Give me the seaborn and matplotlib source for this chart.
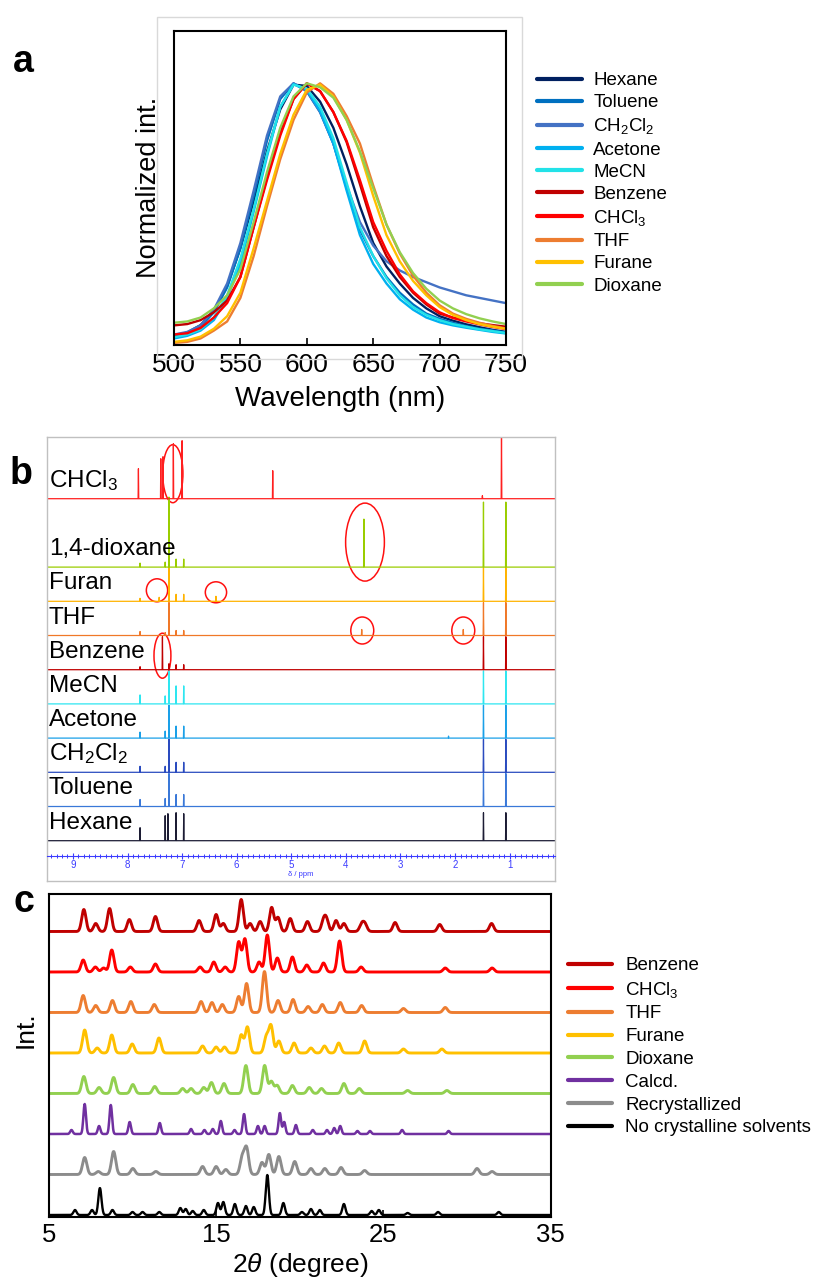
import numpy as np
import pandas as pd
import matplotlib
matplotlib.use("Agg")
import matplotlib.pyplot as plt
from matplotlib.patches import Ellipse, Rectangle
from matplotlib.lines import Line2D
from matplotlib.ticker import MultipleLocator
import seaborn as sns

sns.set_theme(style="white")
plt.rcParams["font.family"] = ["Liberation Sans", "DejaVu Sans"]
plt.rcParams["mathtext.fontset"] = "custom"
plt.rcParams["mathtext.rm"] = "Liberation Sans"
plt.rcParams["mathtext.it"] = "Liberation Sans:italic"
plt.rcParams["mathtext.bf"] = "Liberation Sans:bold"
plt.rcParams["text.color"] = "black"
plt.rcParams["axes.labelcolor"] = "black"
plt.rcParams["xtick.color"] = "black"
plt.rcParams["ytick.color"] = "black"

# ---------------------------------------------------------------- panel a data
# normalized emission, sampled every 10 nm from 500 to 750 nm
wavelength = list(range(500, 751, 10))
em_hexane = [0.034, 0.048, 0.076, 0.13, 0.225, 0.37, 0.55, 0.74, 0.90, 0.995, 0.99, 0.93, 0.83,
             0.69, 0.53, 0.39, 0.30, 0.235, 0.18, 0.14, 0.11, 0.093, 0.079, 0.068, 0.058, 0.05]
em_toluene = [0.035, 0.045, 0.07, 0.125, 0.22, 0.37, 0.57, 0.78, 0.94, 1.0, 0.97, 0.89, 0.77,
              0.60, 0.44, 0.34, 0.26, 0.20, 0.155, 0.12, 0.10, 0.085, 0.072, 0.062, 0.055, 0.048]
em_ch2cl2 = [0.04, 0.05, 0.075, 0.135, 0.235, 0.39, 0.59, 0.80, 0.95, 1.0, 0.97, 0.89, 0.77,
             0.61, 0.47, 0.38, 0.32, 0.285, 0.26, 0.24, 0.22, 0.205, 0.19, 0.18, 0.17, 0.16]
em_acetone = [0.025, 0.035, 0.055, 0.095, 0.18, 0.31, 0.51, 0.72, 0.91, 0.997, 0.975, 0.895, 0.77,
              0.59, 0.42, 0.31, 0.235, 0.175, 0.135, 0.105, 0.087, 0.075, 0.066, 0.058, 0.05, 0.044]
em_mecn = [0.03, 0.04, 0.06, 0.105, 0.19, 0.33, 0.52, 0.73, 0.91, 0.995, 0.98, 0.91, 0.79,
           0.62, 0.45, 0.34, 0.255, 0.19, 0.145, 0.115, 0.095, 0.08, 0.07, 0.06, 0.053, 0.046]
em_benzene = [0.075, 0.08, 0.095, 0.125, 0.17, 0.26, 0.45, 0.64, 0.81, 0.94, 1.0, 0.97, 0.89,
              0.775, 0.615, 0.45, 0.34, 0.26, 0.20, 0.155, 0.12, 0.105, 0.093, 0.083, 0.076, 0.07]
em_chcl3 = [0.04, 0.045, 0.065, 0.105, 0.16, 0.26, 0.45, 0.63, 0.80, 0.94, 1.0, 0.97, 0.89,
            0.78, 0.63, 0.47, 0.36, 0.27, 0.205, 0.16, 0.125, 0.103, 0.09, 0.079, 0.069, 0.061]
em_thf = [0.008, 0.012, 0.025, 0.055, 0.09, 0.18, 0.34, 0.53, 0.71, 0.86, 0.965, 1.0, 0.96,
          0.875, 0.77, 0.61, 0.46, 0.35, 0.265, 0.20, 0.152, 0.12, 0.10, 0.085, 0.073, 0.063]
em_furane = [0.012, 0.018, 0.032, 0.062, 0.11, 0.2, 0.37, 0.55, 0.73, 0.88, 0.975, 0.995, 0.95,
             0.86, 0.735, 0.57, 0.42, 0.32, 0.245, 0.19, 0.145, 0.115, 0.095, 0.08, 0.07, 0.062]
em_dioxane = [0.085, 0.09, 0.105, 0.14, 0.19, 0.29, 0.47, 0.66, 0.83, 0.95, 1.0, 0.985, 0.945,
              0.86, 0.74, 0.6, 0.46, 0.355, 0.275, 0.215, 0.17, 0.14, 0.118, 0.102, 0.09, 0.08]

solvents_a = ["Hexane", "Toluene", "CH$_2$Cl$_2$", "Acetone", "MeCN",
              "Benzene", "CHCl$_3$", "THF", "Furane", "Dioxane"]
colors_a = ["#002060", "#0070C0", "#4472C4", "#00B0F0", "#22E2E8",
            "#C00000", "#FF0000", "#ED7D31", "#FFC000", "#92D050"]
series_a = [em_hexane, em_toluene, em_ch2cl2, em_acetone, em_mecn,
            em_benzene, em_chcl3, em_thf, em_furane, em_dioxane]
xticks_a = [500, 550, 600, 650, 700, 750]

# ---------------------------------------------------------------- panel b data
# 1H NMR peak lists (ppm, peak height in plot units) for each crystal dissolved
nmr_labels = ["Hexane", "Toluene", "CH$_2$Cl$_2$", "Acetone", "MeCN",
              "Benzene", "THF", "Furan", "1,4-dioxane", "CHCl$_3$"]
nmr_colors = ["#1C1C34", "#3A78D8", "#2A4BBF", "#1AA0E8", "#2EE6F0",
              "#C00000", "#F07828", "#FFB300", "#9ACD00", "#FF2020"]
ppm_hexane = [7.77, 7.31, 7.26, 7.11, 6.97, 1.48, 1.07]
int_hexane = [13, 25, 27, 28, 27, 28, 28]
ppm_toluene = [7.77, 7.31, 7.24, 7.11, 6.97, 1.48, 1.07]
int_toluene = [7, 8, 33, 12, 12, 33, 33]
ppm_ch2cl2 = [7.77, 7.31, 7.24, 7.11, 6.97, 1.48, 1.07]
int_ch2cl2 = [6, 6, 33, 10, 10, 33, 33]
ppm_acetone = [7.77, 7.31, 7.24, 7.11, 6.97, 2.12, 1.48, 1.07]
int_acetone = [6, 7, 33, 12, 12, 2, 33, 33]
ppm_mecn = [7.77, 7.31, 7.24, 7.11, 6.97, 1.48, 1.07]
int_mecn = [9, 8, 33, 18, 18, 33, 33]
ppm_benzene = [7.77, 7.36, 7.24, 7.11, 6.97, 1.48, 1.07]
int_benzene = [3, 33, 6, 5, 5, 33, 33]
ppm_thf = [7.77, 7.31, 7.24, 7.11, 6.97, 3.71, 1.85, 1.48, 1.07]
int_thf = [4, 3, 33, 5, 5, 6, 6, 33, 33]
ppm_furan = [7.77, 7.42, 7.24, 7.11, 6.97, 6.38, 1.48, 1.07]
int_furan = [3, 4, 34, 7, 7, 5, 34, 34]
ppm_dioxane = [7.77, 7.31, 7.24, 7.11, 6.97, 3.67, 1.48, 1.07]
int_dioxane = [4, 5, 70, 8, 8, 48, 65, 65]
ppm_chcl3 = [7.80, 7.39, 7.35, 7.16, 7.00, 5.34, 1.50, 1.15]
int_chcl3 = [30, 40, 42, 55, 58, 28, 3, 70]
nmr_ppm = [ppm_hexane, ppm_toluene, ppm_ch2cl2, ppm_acetone, ppm_mecn,
           ppm_benzene, ppm_thf, ppm_furan, ppm_dioxane, ppm_chcl3]
nmr_int = [int_hexane, int_toluene, int_ch2cl2, int_acetone, int_mecn,
           int_benzene, int_thf, int_furan, int_dioxane, int_chcl3]
# circled solvent signals: (trace index, ppm, height above baseline, width ppm, height)
circled = [(9, 7.17, 25, 0.37, 58), (8, 3.65, 25, 0.71, 78),
           (7, 7.46, 11, 0.39, 23), (7, 6.38, 9, 0.39, 21),
           (6, 3.70, 5, 0.42, 27), (6, 1.85, 5, 0.42, 27),
           (5, 7.36, 14, 0.31, 45)]
ppm_ticks = [1, 2, 3, 4, 5, 6, 7, 8, 9]

# ---------------------------------------------------------------- panel c data
# PXRD reflections: 2theta (deg) and peak height (plot units)
xrd_labels = ["Benzene", "CHCl$_3$", "THF", "Furane", "Dioxane",
              "Calcd.", "Recrystallized", "No crystalline solvents"]
xrd_colors = ["#C00000", "#FF0000", "#ED7D31", "#FFC000", "#92D050",
              "#7030A0", "#8C8C8C", "#000000"]
pos_benzene = [7.09, 7.8, 8.63, 9.81, 11.37, 13.98, 15.0, 15.43, 16.5, 17.03, 17.63, 18.32,
               18.7, 19.43, 20.46, 21.42, 21.6, 22.17, 22.64, 23.7, 23.9, 25.7, 28.37, 31.47]
hgt_benzene = [22, 8, 23, 12, 15, 11, 17, 8, 32, 8, 10, 24,
               14, 13, 10, 10, 11, 11, 8, 7, 7, 9, 7, 8]
pos_chcl3 = [7.05, 7.78, 8.27, 8.76, 9.87, 11.37, 14.04, 14.86, 15.54, 16.35, 16.72, 17.57,
             18.06, 18.66, 19.56, 20.42, 21.42, 22.38, 23.67, 28.7, 31.5]
hgt_chcl3 = [12, 5, 4, 22, 5, 8, 5, 10, 5, 30, 33, 10,
             37, 14, 15, 7, 9, 31, 5, 4, 4]
pos_thf = [7.05, 7.8, 8.8, 9.9, 11.3, 14.1, 14.75, 15.37, 16.35, 16.82, 17.89, 18.7,
           19.6, 20.5, 21.35, 22.42, 23.7, 26.2, 28.7]
hgt_thf = [17, 7, 12, 11, 8, 11, 10, 8, 16, 29, 41, 12,
           13, 6, 8, 10, 7, 4, 5]
pos_furane = [7.14, 7.89, 8.76, 9.98, 11.58, 14.19, 15.0, 15.5, 16.5, 16.87, 18.0, 18.28,
              18.75, 19.66, 20.67, 21.48, 22.33, 23.88, 26.2, 28.5]
hgt_furane = [23, 5, 18, 9, 15, 7, 6, 6, 18, 26, 16, 27,
              12, 10, 5, 7, 10, 12, 4, 4]
pos_dioxane = [7.09, 8.0, 8.87, 10.02, 11.33, 13.0, 13.5, 14.26, 14.72, 15.47, 16.78, 17.9,
               18.3, 18.65, 19.56, 20.57, 21.3, 22.64, 23.56, 26.45, 28.8]
hgt_dioxane = [17, 6, 16, 9, 7, 5, 5, 6, 11, 10, 28, 28,
               12, 8, 8, 6, 5, 10, 5, 3, 3]
pos_calcd = [6.35, 7.14, 8.0, 8.7, 9.83, 11.63, 13.5, 14.3, 14.8, 15.28, 16.1, 16.67, 17.5,
             17.9, 18.81, 19.07, 19.77, 20.78, 21.63, 22.06, 22.42, 23.45, 24.2, 26.12, 28.9]
hgt_calcd = [4, 30, 8, 29, 12, 11, 5, 4, 5, 13, 4, 20, 8,
             8, 21, 12, 9, 4, 4, 6, 8, 3, 3, 4, 3]
pos_recryst = [7.14, 7.95, 8.87, 10.02, 11.4, 14.19, 15.0, 15.58, 16.56, 16.82, 17.74, 18.15,
               18.75, 19.7, 20.67, 21.5, 22.47, 23.88, 30.6, 31.5]
hgt_recryst = [17, 3, 23, 6, 3, 8, 8, 5, 17, 26, 12, 20,
               18, 13, 6, 6, 7, 4, 6, 3]
pos_nocryst = [6.56, 7.58, 8.05, 8.8, 10.0, 10.6, 11.6, 12.86, 13.18, 13.6, 14.26, 15.11, 15.43,
               16.12, 16.78, 17.25, 18.06, 19.02, 20.13, 20.67, 21.2, 22.64, 24.3, 24.73, 26.45,
               28.27, 31.9]
hgt_nocryst = [5, 5, 27, 5, 3, 3, 3, 7, 6, 4, 5, 12, 13,
               11, 9, 8, 40, 12, 3, 6, 5, 11, 4, 5, 2,
               3, 3]
xrd_pos = [pos_benzene, pos_chcl3, pos_thf, pos_furane, pos_dioxane,
           pos_calcd, pos_recryst, pos_nocryst]
xrd_hgt = [hgt_benzene, hgt_chcl3, hgt_thf, hgt_furane, hgt_dioxane,
           hgt_calcd, hgt_recryst, hgt_nocryst]
xrd_fwhm = [0.3, 0.3, 0.3, 0.3, 0.3, 0.18, 0.3, 0.22]
xrd_lw = [2.1, 2.1, 2.1, 2.1, 2.1, 1.8, 2.1, 1.7]
xticks_c = [5, 15, 25, 35]

# ---------------------------------------------------------------- figure
W, H = 815, 1282
fig = plt.figure(figsize=(W / 100, H / 100), dpi=100)
fig.patch.set_facecolor("white")


def box(l, t, r, b):
    return [l / W, 1 - b / H, (r - l) / W, (b - t) / H]


# ---------------------------------------------------------------- panel a
fig.add_artist(Rectangle((157 / W, 1 - 359 / H), (522 - 157) / W, (359 - 17) / H,
                         transform=fig.transFigure, fill=False, ec="#D9D9D9", lw=1.0))
ax_a = fig.add_axes(box(174, 31, 506, 345))
n_wl = len(wavelength)
df_a = pd.DataFrame({
    "Wavelength": np.tile(wavelength, len(series_a)),
    "Intensity": np.concatenate(series_a),
    "Solvent": np.repeat(solvents_a, n_wl),
})
sns.lineplot(data=df_a, x="Wavelength", y="Intensity", hue="Solvent",
             hue_order=solvents_a, palette=dict(zip(solvents_a, colors_a)),
             estimator=None, sort=False, linewidth=1.7, legend=False, ax=ax_a)
ax_a.set_xlim(500, 750)
ax_a.set_ylim(0, 1.2)
ax_a.set_xticks(xticks_a)
ax_a.set_yticks([])
ax_a.tick_params(axis="x", bottom=True, direction="in", length=5, width=1.2,
                 labelsize=19, pad=6, colors="black")
ax_a.set_xlabel("Wavelength (nm)", fontsize=20, labelpad=6)
ax_a.set_ylabel("Normalized int.", fontsize=19.5)
ax_a.yaxis.set_label_coords(-0.035, 0.503)
for s in ax_a.spines.values():
    s.set_color("black")
    s.set_linewidth(1.5)

handles_a = [Line2D([], [], color=c, lw=3) for c in colors_a]
fig.legend(handles_a, solvents_a, loc="upper left", bbox_to_anchor=(537 / W, 1 - 72 / H),
           frameon=False, fontsize=13.5, handlelength=2.4, handletextpad=0.6,
           labelspacing=0.27, borderpad=0, borderaxespad=0, labelcolor="black")
fig.text(13 / W, 1 - 72 / H, "a", fontsize=27, fontweight="bold", va="baseline")

# ---------------------------------------------------------------- panel b
ppm_left, ppm_right = 9.48, 0.17
ax_b = fig.add_axes(box(46.7, 437, 555, 880.7))
gap = 34.2
nmr_base = [40 + gap * i for i in range(9)]
nmr_base.append(nmr_base[-1] + 2 * gap)

rows = []
for k, (lab, pp, hh) in enumerate(zip(nmr_labels, nmr_ppm, nmr_int)):
    order = np.argsort(pp)[::-1]
    xs, ys = [ppm_left], [nmr_base[k]]
    for i in order:
        xs += [pp[i] + 0.006, pp[i], pp[i] - 0.006]
        ys += [nmr_base[k], nmr_base[k] + hh[i], nmr_base[k]]
    xs.append(ppm_right)
    ys.append(nmr_base[k])
    rows.append(pd.DataFrame({"ppm": xs, "signal": ys, "sample": lab}))
df_b = pd.concat(rows, ignore_index=True)
sns.lineplot(data=df_b, x="ppm", y="signal", hue="sample", hue_order=nmr_labels,
             palette=dict(zip(nmr_labels, nmr_colors)), estimator=None, sort=False,
             linewidth=0.9, legend=False, ax=ax_b)
for k, lab in enumerate(nmr_labels):
    ax_b.text(9.44, nmr_base[k] + 12, lab, fontsize=17.5, va="baseline", ha="left",
              color="black")
for k, p, dy, w, h in circled:
    ax_b.add_patch(Ellipse((p, nmr_base[k] + dy), w, h, fill=False, ec="#FF1010", lw=1.1))
ax_b.set_xlim(ppm_left, ppm_right)
ax_b.set_ylim(0, 443.7)
ax_b.set_xticks([])
ax_b.set_yticks([])
ax_b.set_xlabel("")
ax_b.set_ylabel("")
for s in ax_b.spines.values():
    s.set_color("#C0C0C0")
    s.set_linewidth(1.0)

# chemical-shift scale
blue = "#3B3BFF"
ax_ppm = fig.add_axes(box(46.7, 855.9, 555, 856))
ax_ppm.patch.set_visible(False)
ax_ppm.set_xlim(ppm_left, ppm_right)
ax_ppm.set_xticks(ppm_ticks)
ax_ppm.xaxis.set_minor_locator(MultipleLocator(0.1))
ax_ppm.set_yticks([])
for name, s in ax_ppm.spines.items():
    s.set_visible(name == "bottom")
ax_ppm.spines["bottom"].set_color(blue)
ax_ppm.spines["bottom"].set_linewidth(0.8)
ax_ppm.tick_params(axis="x", which="major", bottom=True, direction="inout", length=4,
                   width=0.8, color=blue, labelcolor=blue, labelsize=7, pad=1)
ax_ppm.tick_params(axis="x", which="minor", bottom=True, direction="inout", length=2.5,
                   width=0.7, color=blue)
ax_ppm.set_xlabel("δ / ppm", fontsize=5.5, color=blue, labelpad=0.5)
fig.text(10 / W, 1 - 484 / H, "b", fontsize=27, fontweight="bold", va="baseline")

# ---------------------------------------------------------------- panel c
ax_c = fig.add_axes(box(48.9, 894, 550.6, 1217))
two_theta = np.arange(5.0, 35.001, 0.02)
gap_c = 40.5
rows = []
for k, (lab, pp, hh, fw) in enumerate(zip(xrd_labels, xrd_pos, xrd_hgt, xrd_fwhm)):
    base = 2 + gap_c * (len(xrd_labels) - 1 - k)
    pk = np.asarray(pp)[:, None]
    hk = np.asarray(hh, dtype=float)[:, None]
    prof = (hk * np.exp(-4 * np.log(2) * (two_theta[None, :] - pk) ** 2 / fw ** 2)).sum(0)
    rows.append(pd.DataFrame({"2theta": two_theta, "Int": base + prof, "sample": lab}))
df_c = pd.concat(rows, ignore_index=True)
pal_c = dict(zip(xrd_labels, xrd_colors))
for lab, lw in zip(xrd_labels, xrd_lw):
    sns.lineplot(data=df_c[df_c["sample"] == lab], x="2theta", y="Int",
                 color=pal_c[lab], estimator=None, sort=False,
                 linewidth=lw, legend=False, ax=ax_c)
ax_c.set_xlim(5, 35)
ax_c.set_ylim(0, 323)
ax_c.set_xticks(xticks_c)
ax_c.set_yticks([])
ax_c.tick_params(axis="x", bottom=True, direction="in", length=5, width=1.2,
                 labelsize=18.5, pad=4.5, colors="black")
ax_c.set_xlabel(r"2$\it{\theta}$ (degree)", fontsize=19, labelpad=3)
ax_c.set_ylabel("Int.", fontsize=19)
ax_c.yaxis.set_label_coords(-0.022, 0.579)
for s in ax_c.spines.values():
    s.set_color("black")
    s.set_linewidth(1.5)

handles_c = [Line2D([], [], color=c, lw=3) for c in xrd_colors]
fig.legend(handles_c, xrd_labels, loc="upper left", bbox_to_anchor=(568 / W, 1 - 957 / H),
           frameon=False, fontsize=13.5, handlelength=2.35, handletextpad=0.7,
           labelspacing=0.3, borderpad=0, borderaxespad=0, labelcolor="black")
fig.text(13 / W, 1 - 912 / H, "c", fontsize=27, fontweight="bold", va="baseline")

fig.savefig("out.png", dpi=100, facecolor="white")
